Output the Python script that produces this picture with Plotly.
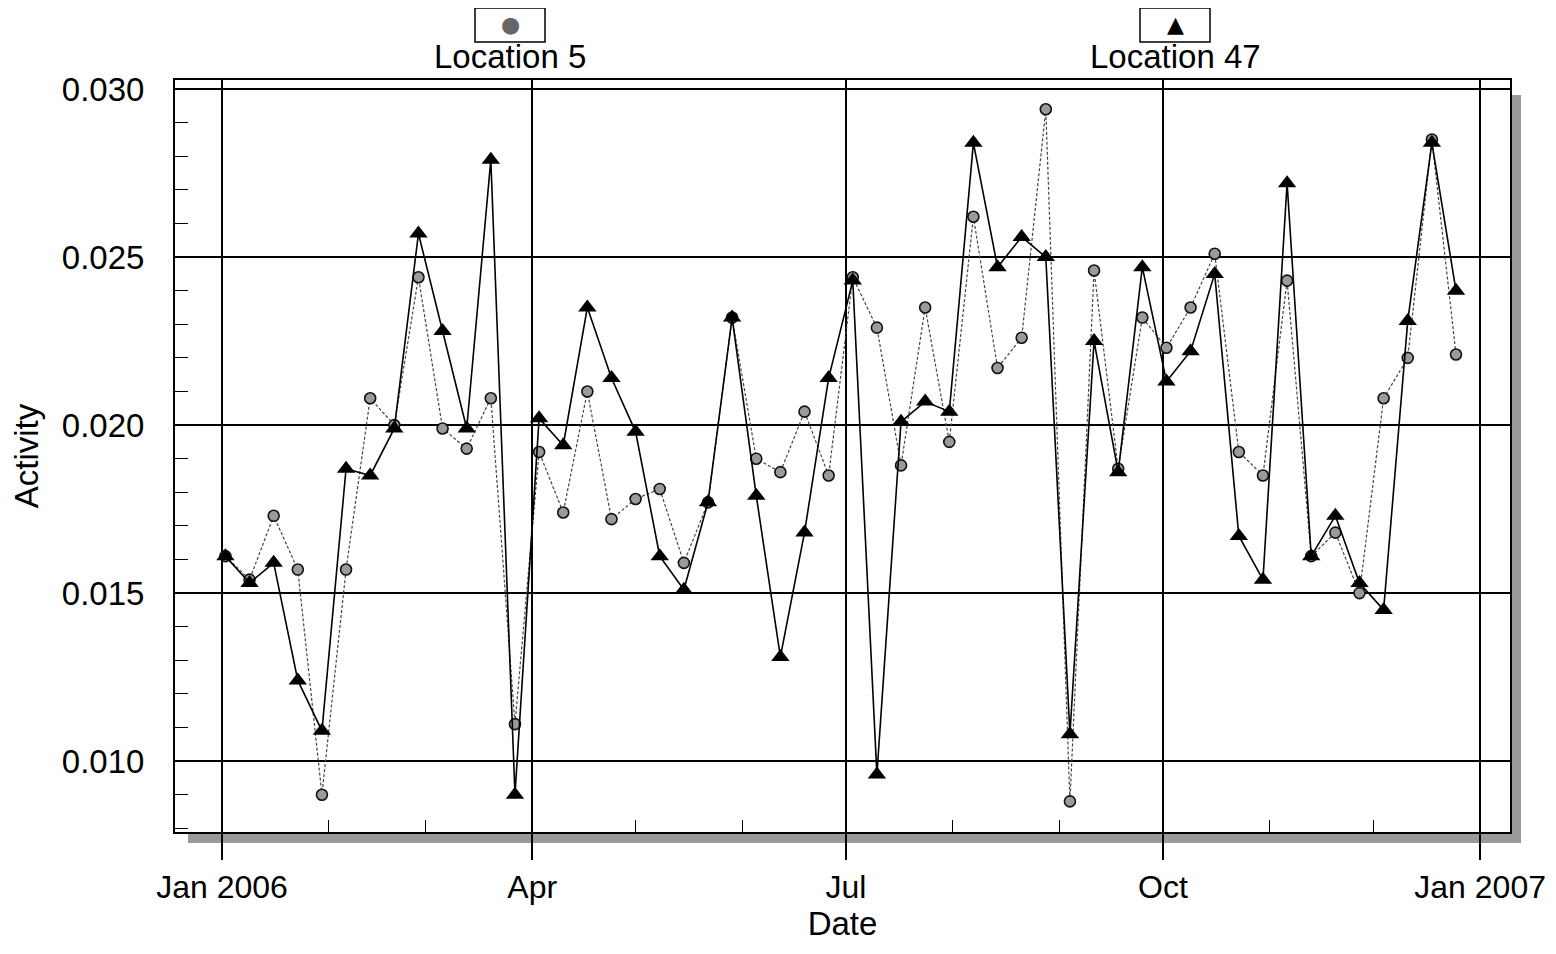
import plotly.graph_objects as go

# ---------------- data ----------------
dates = [
    "2006-01-02", "2006-01-09", "2006-01-16", "2006-01-23", "2006-01-30",
    "2006-02-06", "2006-02-13", "2006-02-20", "2006-02-27",
    "2006-03-06", "2006-03-13", "2006-03-20", "2006-03-27",
    "2006-04-03", "2006-04-10", "2006-04-17", "2006-04-24",
    "2006-05-01", "2006-05-08", "2006-05-15", "2006-05-22", "2006-05-29",
    "2006-06-05", "2006-06-12", "2006-06-19", "2006-06-26",
    "2006-07-03", "2006-07-10", "2006-07-17", "2006-07-24", "2006-07-31",
    "2006-08-07", "2006-08-14", "2006-08-21", "2006-08-28",
    "2006-09-04", "2006-09-11", "2006-09-18", "2006-09-25",
    "2006-10-02", "2006-10-09", "2006-10-16", "2006-10-23", "2006-10-30",
    "2006-11-06", "2006-11-13", "2006-11-20", "2006-11-27",
    "2006-12-04", "2006-12-11", "2006-12-18", "2006-12-25",
]

location_5 = [
    0.0161, 0.0154, 0.0173, 0.0157, 0.0090,
    0.0157, 0.0208, 0.0200, 0.0244,
    0.0199, 0.0193, 0.0208, 0.0111,
    0.0192, 0.0174, 0.0210, 0.0172,
    0.0178, 0.0181, 0.0159, 0.0177, 0.0232,
    0.0190, 0.0186, 0.0204, 0.0185,
    0.0244, 0.0229, 0.0188, 0.0235, 0.0195,
    0.0262, 0.0217, 0.0226, 0.0294,
    0.0088, 0.0246, 0.0187, 0.0232,
    0.0223, 0.0235, 0.0251, 0.0192, 0.0185,
    0.0243, 0.0161, 0.0168, 0.0150,
    0.0208, 0.0220, 0.0285, 0.0221,
]

location_47 = [
    0.0161, 0.0153, 0.0159, 0.0124, 0.0109,
    0.0187, 0.0185, 0.0199, 0.0257,
    0.0228, 0.0199, 0.0279, 0.0090,
    0.0202, 0.0194, 0.0235, 0.0214,
    0.0198, 0.0161, 0.0151, 0.0177, 0.0232,
    0.0179, 0.0131, 0.0168, 0.0214,
    0.0243, 0.0096, 0.0201, 0.0207, 0.0204,
    0.0284, 0.0247, 0.0256, 0.0250,
    0.0108, 0.0225, 0.0186, 0.0247,
    0.0213, 0.0222, 0.0245, 0.0167, 0.0154,
    0.0272, 0.0161, 0.0173, 0.0153,
    0.0145, 0.0231, 0.0284, 0.0240,
]

series_names = ["Location 5", "Location 47"]
x_tick_dates = ["2006-01-01", "2006-04-01", "2006-07-01", "2006-10-01", "2007-01-01"]
x_tick_labels = ["Jan 2006", "Apr", "Jul", "Oct", "Jan 2007"]
y_tick_values = [0.010, 0.015, 0.020, 0.025, 0.030]
y_tick_labels = ["0.010", "0.015", "0.020", "0.025", "0.030"]

# ---------------- layout geometry (screen px; page body has 8px margin) ----------------
OFF = 8
W, H = 1556 - 2 * OFF, 954 - 2 * OFF
L, R, T, B = 175, 1510, 80, 832          # plot area on screen
FONT = "Liberation Sans, Arial, sans-serif"


def px(xs):
    return (xs - L) / (R - L)


def py(ys):
    return (B - ys) / (B - T)


fig = go.Figure()

fig.add_trace(go.Scatter(
    x=dates, y=location_5, name=series_names[0], mode="lines+markers",
    line=dict(color="#444444", width=1.2, dash="3px,2px"),
    marker=dict(symbol="circle", size=11, color="#9a9a9a",
                line=dict(color="#111111", width=1.6)),
    showlegend=False,
))
fig.add_trace(go.Scatter(
    x=dates, y=location_47, name=series_names[1], mode="lines+markers",
    line=dict(color="#000000", width=1.6),
    marker=dict(symbol="triangle-up", size=16, color="#000000",
                line=dict(color="#000000", width=0)),
    showlegend=False,
))

shapes = [
    # drop shadow right & bottom
    dict(type="rect", xref="paper", yref="paper",
         x0=px(1512), x1=px(1521), y0=py(843), y1=py(95),
         fillcolor="#9a9a9a", line=dict(width=0), layer="below"),
    dict(type="rect", xref="paper", yref="paper",
         x0=px(188), x1=px(1521), y0=py(843), y1=py(834),
         fillcolor="#9a9a9a", line=dict(width=0), layer="below"),
    # legend boxes
    dict(type="rect", xref="paper", yref="paper",
         x0=px(475), x1=px(545), y0=py(42), y1=py(8),
         fillcolor="white", line=dict(color="black", width=1.5)),
    dict(type="rect", xref="paper", yref="paper",
         x0=px(1140), x1=px(1210), y0=py(42), y1=py(8),
         fillcolor="white", line=dict(color="black", width=1.5)),
]

annotations = [
    dict(xref="paper", yref="paper", x=px(510), y=py(57), text=series_names[0],
         showarrow=False, font=dict(family=FONT, size=33, color="black"),
         xanchor="center", yanchor="middle"),
    dict(xref="paper", yref="paper", x=px(1175), y=py(57), text=series_names[1],
         showarrow=False, font=dict(family=FONT, size=33, color="black"),
         xanchor="center", yanchor="middle"),
    dict(xref="paper", yref="paper", x=px(510), y=py(25), text="●",
         showarrow=False, font=dict(family="DejaVu Sans", size=22, color="#666666"),
         xanchor="center", yanchor="middle"),
    dict(xref="paper", yref="paper", x=px(1175), y=py(25), text="▲",
         showarrow=False, font=dict(family="DejaVu Sans", size=22, color="black"),
         xanchor="center", yanchor="middle"),
]

fig.update_layout(
    width=W, height=H,
    margin=dict(l=L - OFF, r=W - (R - OFF), t=T - OFF, b=H - (B - OFF), pad=0,
                autoexpand=False),
    paper_bgcolor="white", plot_bgcolor="white",
    font=dict(family=FONT, size=33, color="black"),
    shapes=shapes, annotations=annotations,
    showlegend=False,
)

fig.update_xaxes(
    type="date", automargin=False,
    range=["2005-12-18 09:00", "2007-01-09 16:00"],
    tickmode="array", tickvals=x_tick_dates, ticktext=x_tick_labels,
    ticks="outside", ticklen=26, tickwidth=1.5, tickcolor="black",
    ticklabelstandoff=0, ticklabeloverflow="allow",
    showgrid=True, gridcolor="black", gridwidth=1.5,
    showline=True, linecolor="black", linewidth=2, mirror=True,
    zeroline=False,
    tickfont=dict(family=FONT, size=32, color="black"),
    title=dict(text="Date", font=dict(family=FONT, size=33, color="black"), standoff=0),
    minor=dict(dtick="M1", tick0="2006-01-01", ticks="inside", ticklen=12,
               tickwidth=1.2, tickcolor="black", showgrid=False),
)

fig.update_yaxes(
    automargin=False,
    range=[0.00789, 0.03027],
    tickmode="array", tickvals=y_tick_values, ticktext=y_tick_labels,
    ticks="inside", ticklen=13, tickwidth=1.5, tickcolor="black",
    ticklabelstandoff=22,
    showgrid=True, gridcolor="black", gridwidth=2,
    showline=True, linecolor="black", linewidth=2, mirror=True,
    zeroline=False,
    tickfont=dict(family=FONT, size=33, color="black"),
    title=dict(text="Activity", font=dict(family=FONT, size=33, color="black"), standoff=14),
    minor=dict(dtick=0.001, tick0=0.0, ticks="inside", ticklen=13,
               tickwidth=1.2, tickcolor="black", showgrid=False),
)

fig.write_html("out.html")
